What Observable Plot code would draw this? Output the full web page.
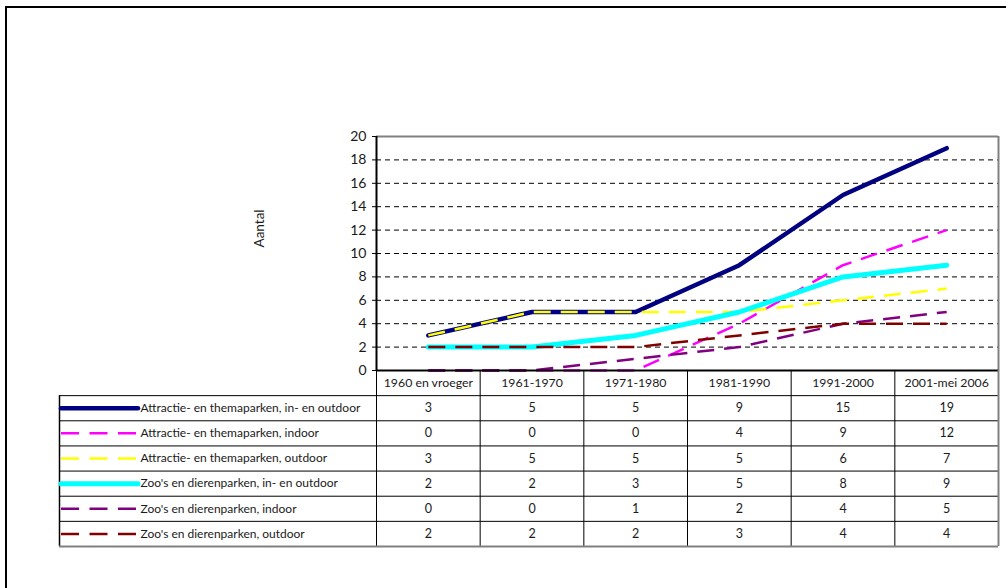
<!DOCTYPE html>
<html>
<head>
<meta charset="utf-8">
<script src="https://cdn.jsdelivr.net/npm/d3@7"></script>
<script src="https://cdn.jsdelivr.net/npm/@observablehq/plot@0.6"></script>
<style>
  html, body { margin: 0; padding: 0; background: #fff; overflow: hidden; }
  #wrap { position: relative; width: 1006px; height: 588px; overflow: hidden; }
  #frame { position: absolute; left: 5px; top: 6px; width: 1100px; height: 700px;
           border-left: 2px solid #000; border-top: 2px solid #000; }
  #chart, #table { position: absolute; left: 0; }
  #chart { top: 0; }
  #table { top: 370px; }
  svg { max-width: none !important; }
</style>
</head>
<body>
<div id="wrap">
  <div id="frame"></div>
  <div id="chart"></div>
  <div id="table"></div>
</div>
<script>
// ---- data ----
const categories = ["1960 en vroeger", "1961-1970", "1971-1980", "1981-1990", "1991-2000", "2001-mei 2006"];
const seriesNames = [
  "Attractie- en themaparken, in- en outdoor",
  "Attractie- en themaparken, indoor",
  "Attractie- en themaparken, outdoor",
  "Zoo's en dierenparken, in- en outdoor",
  "Zoo's en dierenparken, indoor",
  "Zoo's en dierenparken, outdoor"
];
const attractieInOut = [3, 5, 5, 9, 15, 19];
const attractieIndoor = [0, 0, 0, 4, 9, 12];
const attractieOutdoor = [3, 5, 5, 5, 6, 7];
const zooInOut = [2, 2, 3, 5, 8, 9];
const zooIndoor = [0, 0, 1, 2, 4, 5];
const zooOutdoor = [2, 2, 2, 3, 4, 4];
const yTicks = [0, 2, 4, 6, 8, 10, 12, 14, 16, 18, 20];
const yLabel = "Aantal";

// ---- styles ----
const seriesValues = [attractieInOut, attractieIndoor, attractieOutdoor, zooInOut, zooIndoor, zooOutdoor];
const seriesColors = ["#000080", "#FF00FF", "#FFFF00", "#00FFFF", "#800080", "#800000"];
const seriesSolid = [true, false, false, true, false, false];
const styleFor = (i) => seriesSolid[i]
  ? {stroke: seriesColors[i], strokeWidth: i === 3 ? 5 : 4.5, strokeLinecap: "round", strokeLinejoin: "round"}
  : {stroke: seriesColors[i], strokeWidth: 2.5, strokeDasharray: "17,10", strokeLinecap: "butt", strokeLinejoin: "round"};

const FONT = "Lato, 'DejaVu Sans', sans-serif";
const TEXT = "#1a1a1a";

// ---- chart ----
const chart = Plot.plot({
  width: 1006, height: 371,
  marginLeft: 376, marginRight: 8, marginTop: 136, marginBottom: 1,
  x: {domain: [-0.5, categories.length - 0.5], axis: null},
  y: {domain: [0, 20], axis: null},
  style: {fontFamily: FONT, background: "transparent", color: TEXT, overflow: "visible"},
  marks: [
    Plot.ruleY(yTicks.filter(d => d > 0 && d < 20), {stroke: "#000", strokeWidth: 1, strokeDasharray: "5,4"}),
    Plot.ruleY([20], {stroke: "#808080", strokeWidth: 2}),
    Plot.ruleX([categories.length - 0.5], {stroke: "#808080", strokeWidth: 2}),
    ...seriesValues.map((vals, i) => Plot.lineY(vals, {x: (d, j) => j, y: d => d, ...styleFor(i)})),
    Plot.ruleX([-0.5], {stroke: "#000", strokeWidth: 2}),
    Plot.ruleY([0], {stroke: "#000", strokeWidth: 2}),
    Plot.axisY(yTicks, {anchor: "left", tickSize: 4, tickPadding: 6, fontSize: 14, stroke: "#000", fill: TEXT, label: null}),
    Plot.text([yLabel], {frameAnchor: "left", dx: -117, dy: -6, rotate: -90, fontSize: 13.5, fill: TEXT})
  ]
});
document.getElementById("chart").appendChild(chart);

// ---- data table (legend + values) ----
const colW = (1006 - 8 - 376) / categories.length;      // width of one category column
const legendW = 376 - 59;                               // width of the legend column
const xL = -0.5 - legendW / colW;                        // left edge of the table in x units
const nRows = seriesNames.length + 1;

const cells = [];
seriesValues.forEach((vals, r) => vals.forEach((v, c) => cells.push({x: c, y: r + 1.5, v})));
const rows = seriesNames.map((name, r) => ({name, r, y: r + 1.5}));

const table = Plot.plot({
  width: 1006, height: 180,
  marginLeft: 59, marginRight: 8, marginTop: 0, marginBottom: 4,
  x: {domain: [xL, categories.length - 0.5], axis: null},
  y: {domain: [0, nRows], range: [0, 176], axis: null},
  style: {fontFamily: FONT, background: "transparent", color: TEXT, overflow: "visible"},
  marks: [
    Plot.ruleY(d3.range(1, nRows), {x1: xL, x2: categories.length - 0.5, stroke: "#000", strokeWidth: 1}),
    Plot.ruleX(d3.range(0, categories.length).map(i => i - 0.5), {y1: 0, y2: nRows, stroke: "#000", strokeWidth: 1}),
    Plot.ruleX([xL], {y1: 1, y2: nRows, stroke: "#000", strokeWidth: 1.5}),
    Plot.ruleX([categories.length - 0.5], {y1: 0, y2: nRows, stroke: "#808080", strokeWidth: 2}),
    Plot.ruleY([nRows], {x1: xL, x2: categories.length - 0.5, stroke: "#808080", strokeWidth: 2}),
    Plot.text(categories, {x: (d, i) => i, y: 0.5, text: d => d, fontSize: 12.3, fill: TEXT}),
    Plot.text(cells, {x: "x", y: "y", text: d => String(d.v), fontSize: 12.5, fill: TEXT}),
    ...rows.map(d => Plot.ruleY([d.y], {x1: xL + 2 / colW, x2: xL + 79 / colW, ...styleFor(d.r), strokeDasharray: seriesSolid[d.r] ? null : "18,10.5"})),
    Plot.text(rows, {x: xL, y: "y", text: "name", dx: 81, textAnchor: "start", fontSize: 12, fill: TEXT})
  ]
});
document.getElementById("table").appendChild(table);
</script>
</body>
</html>
